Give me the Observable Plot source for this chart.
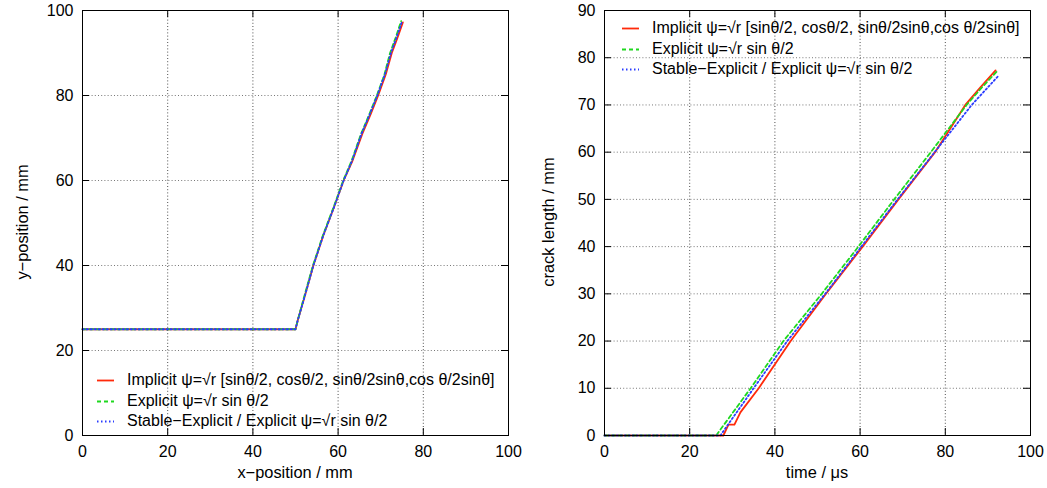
<!DOCTYPE html>
<html><head><meta charset="utf-8">
<script src="https://cdn.jsdelivr.net/npm/d3@7"></script>
<script src="https://cdn.jsdelivr.net/npm/@observablehq/plot@0.6"></script>
<style>
body{margin:0;background:#fff;font-family:"Liberation Sans",Arial,Helvetica,sans-serif;}
#wrap{position:relative;width:1047px;height:488px;overflow:hidden;}
.p{position:absolute;top:0;}
.lbl{position:absolute;font-size:16.4px;white-space:nowrap;transform:translate(-50%,-50%);color:#000;}
.rot{transform:translate(-50%,-50%) rotate(-90deg);}
.leg{position:absolute;font-size:16px;white-space:nowrap;color:#000;}
.leg .row{position:relative;height:20.5px;line-height:20.5px;}
.leg svg{position:absolute;top:0;}
.leg span{position:absolute;top:0;}
</style></head>
<body>
<div id="wrap"></div>
<script>
// ---------- data: left panel (crack path) ----------
const pathImplicitX = [0, 50, 50.5, 51.9, 54.2, 56.5, 59.0, 61.3, 63.4, 65.7, 67.6, 69.4, 71.2, 72.6, 73.9, 75.2];
const pathImplicitY = [25, 25, 27, 31.8, 40, 47, 53.6, 60, 64.7, 71, 75.5, 80, 85, 90, 93.5, 97.2];
const pathExplicitX = [0, 50, 50.5, 51.8, 54.1, 56.4, 58.9, 61.2, 63.2, 65.4, 67.3, 69.1, 70.9, 72.2, 73.5, 74.8];
const pathExplicitY = [25, 25, 27, 31.8, 40, 47, 53.6, 60, 64.7, 71, 75.5, 80, 85, 90, 93.6, 97.5];
const pathStableX   = [0, 50, 50.5, 51.9, 54.2, 56.5, 59.0, 61.3, 63.3, 65.5, 67.4, 69.2, 71.0, 72.4, 73.7, 75.0];
const pathStableY   = [25, 25, 27, 31.8, 40, 47, 53.6, 60, 64.7, 71, 75.5, 80, 85, 90, 93.6, 97.4];

// ---------- data: right panel (crack length vs time) ----------
const lenImplicitT = [0, 27.9, 29.1, 30.5, 31.9, 36.2, 43.7, 52.0, 60.6, 69.0, 77.6, 84.7, 88.3, 91.8];
const lenImplicitL = [0, 0, 2.3, 2.3, 4.9, 10, 20, 30, 40, 50, 60, 70, 73.8, 77.3];
const lenExplicitT = [0, 26.2, 34.3, 42.0, 51.0, 59.6, 68.0, 76.6, 85.0, 88.5, 92.0];
const lenExplicitL = [0, 0, 10, 20, 30, 40, 50, 60, 70, 73.6, 77.0];
const lenStableT   = [0, 27.2, 35.0, 42.9, 51.8, 60.3, 68.8, 77.5, 86.2, 92.3];
const lenStableL   = [0, 0, 10, 20, 30, 40, 50, 60, 70, 76.0];

// ---------- ticks & labels ----------
const leftXTicks = [0, 20, 40, 60, 80, 100];
const leftYTicks = [0, 20, 40, 60, 80, 100];
const rightXTicks = [0, 20, 40, 60, 80, 100];
const rightYTicks = [0, 10, 20, 30, 40, 50, 60, 70, 80, 90];
const seriesNames = [
  "Implicit \u03C8=\u221Ar [sin\u03B8/2, cos\u03B8/2, sin\u03B8/2sin\u03B8,cos \u03B8/2sin\u03B8]",
  "Explicit \u03C8=\u221Ar sin \u03B8/2",
  "Stable\u2212Explicit / Explicit \u03C8=\u221Ar sin \u03B8/2"
];
const leftXLabel = "x\u2212position / mm";
const leftYLabel = "y\u2212position / mm";
const rightXLabel = "time / \u03BCs";
const rightYLabel = "crack length / mm";

const colors = ["#ff2a0a", "#1fd81f", "#2a3cff"];
const dashes = [null, "4,3", "1.5,2.5"];

const zip = (xs, ys) => xs.map((x, i) => ({x, y: ys[i]}));

function panel({w, ml, mr, xTicks, yTicks, yMax, series}) {
  const H = 488, mt = 10, mb = 53;
  const fw = w - ml - mr, fh = H - mt - mb;
  const tl = 7;
  const gridX = xTicks.slice(1, -1), gridY = yTicks.slice(1, -1);
  return Plot.plot({
    width: w, height: H,
    marginLeft: ml, marginRight: mr, marginTop: mt, marginBottom: mb,
    x: {domain: [0, 100]},
    y: {domain: [0, yMax]},
    style: {fontFamily: "Liberation Sans, Arial, sans-serif", fontSize: "16px", color: "#000", background: "#fff"},
    marks: [
      Plot.gridX(gridX, {stroke: "#222", strokeOpacity: 0.8, strokeDasharray: "1,2.2"}),
      Plot.gridY(gridY, {stroke: "#555", strokeOpacity: 0.8, strokeDasharray: "1,2.2"}),
      Plot.tickX(xTicks, {x: d => d, insetTop: fh - tl, stroke: "#000"}),
      Plot.tickX(xTicks, {x: d => d, insetBottom: fh - tl, stroke: "#000"}),
      Plot.tickY(yTicks, {y: d => d, insetRight: fw - tl, stroke: "#000"}),
      Plot.tickY(yTicks, {y: d => d, insetLeft: fw - tl, stroke: "#000"}),
      ...series.map((s, i) => Plot.line(s, {x: "x", y: "y", stroke: colors[i], strokeWidth: 1.8, strokeDasharray: dashes[i]})),
      Plot.frame({stroke: "#000", strokeWidth: 1}),
      Plot.axisX(xTicks, {tickSize: 0, tickPadding: 10, label: null, fontSize: 16}),
      Plot.axisY(yTicks, {tickSize: 0, tickPadding: 9, label: null, fontSize: 16})
    ]
  });
}

const wrap = document.getElementById("wrap");

const left = panel({w: 523, ml: 82, mr: 15, xTicks: leftXTicks, yTicks: leftYTicks, yMax: 100,
  series: [zip(pathImplicitX, pathImplicitY), zip(pathExplicitX, pathExplicitY), zip(pathStableX, pathStableY)]});
left.classList.add("p"); left.style.left = "0px";
wrap.appendChild(left);

const right = panel({w: 524, ml: 81, mr: 17, xTicks: rightXTicks, yTicks: rightYTicks, yMax: 90,
  series: [zip(lenImplicitT, lenImplicitL), zip(lenExplicitT, lenExplicitL), zip(lenStableT, lenStableL)]});
right.classList.add("p"); right.style.left = "523px";
wrap.appendChild(right);

function label(text, x, y, rot) {
  const d = document.createElement("div");
  d.className = "lbl" + (rot ? " rot" : "");
  d.style.left = x + "px"; d.style.top = y + "px";
  d.textContent = text;
  wrap.appendChild(d);
}
label(leftXLabel, 295, 472);
label(leftYLabel, 22, 222, true);
label(rightXLabel, 817, 472);
label(rightYLabel, 548, 222, true);

function legend(x, y) {
  const g = document.createElement("div");
  g.className = "leg";
  g.style.left = x + "px"; g.style.top = y + "px";
  seriesNames.forEach((name, i) => {
    const row = document.createElement("div");
    row.className = "row";
    const dash = dashes[i] ? `stroke-dasharray="${dashes[i]}"` : "";
    row.innerHTML = `<svg width="18" height="20" style="left:0"><line x1="0" x2="17" y1="10.5" y2="10.5" stroke="${colors[i]}" stroke-width="1.8" ${dash}/></svg><span style="left:30px">${name}</span>`;
    g.appendChild(row);
  });
  wrap.appendChild(g);
}
legend(97, 370);
legend(622, 18);
</script>
</body></html>
